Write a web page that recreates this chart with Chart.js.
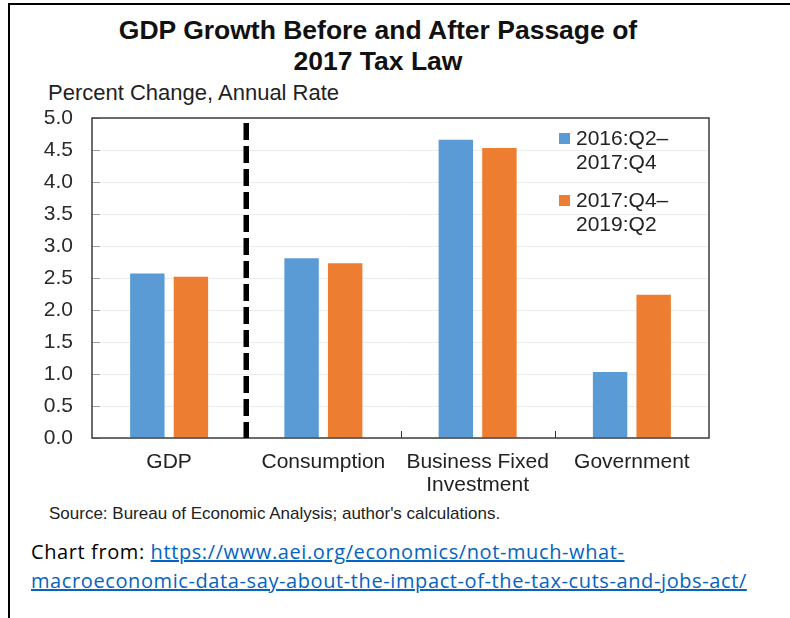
<!DOCTYPE html>
<html>
<head>
<meta charset="utf-8">
<title>GDP Growth Before and After Passage of 2017 Tax Law</title>
<script src="https://cdn.jsdelivr.net/npm/chart.js@4.4.0/dist/chart.umd.min.js"></script>
<style>
  html, body { margin: 0; padding: 0; background: #fff; }
  #page { position: relative; width: 790px; height: 618px; overflow: hidden; background: #fff; }
  #frameLeft { position: absolute; left: 8px; top: 3px; width: 2px; height: 615px; background: #000; }
  #frameTop { position: absolute; left: 8px; top: 3px; width: 782px; height: 2px; background: #000; }
  #chartBox { position: absolute; left: 0; top: 0; width: 790px; height: 500px; }
  .title { position: absolute; left: 0; top: 15px; width: 756px; text-align: center;
           font: bold 26.5px "Liberation Sans", Arial, sans-serif; line-height: 31px; color: #111; }
  .ylabel { position: absolute; left: 48px; top: 80px; font: 22px "Liberation Sans", Arial, sans-serif; color: #222; }
  .source { position: absolute; left: 49px; top: 504px; font: 17px "Liberation Sans", Arial, sans-serif;
            color: #222; }
  .credit { position: absolute; left: 31px; top: 537px; width: 758px; font: 20px "Open Sans", sans-serif;
            letter-spacing: 0.6px; line-height: 29px; color: #000; }
  .credit a { color: #0563c1; text-decoration: underline; }
</style>
</head>
<body>
<div id="page">
  <div id="frameLeft"></div>
  <div id="frameTop"></div>
  <div class="title">GDP Growth Before and After Passage of<br>2017 Tax Law</div>
  <div class="ylabel">Percent Change, Annual Rate</div>
  <div id="chartBox"><canvas id="gdpChart" width="790" height="500"></canvas></div>
  <div class="source">Source: Bureau of Economic Analysis; author's calculations.</div>
  <div class="credit">Chart from: <a href="https://www.aei.org/economics/not-much-what-macroeconomic-data-say-about-the-impact-of-the-tax-cuts-and-jobs-act/">https://www.aei.org/economics/not-much-what-<br>macroeconomic-data-say-about-the-impact-of-the-tax-cuts-and-jobs-act/</a></div>
</div>
<script>
// data
const categories = [['GDP'], ['Consumption'], ['Business Fixed', 'Investment'], ['Government']];
const seriesNames = ['2016:Q2\u20132017:Q4', '2017:Q4\u20132019:Q2'];
const beforeLaw = [2.57, 2.81, 4.66, 1.03];
const afterLaw = [2.52, 2.73, 4.53, 2.24];
const yTicks = [0, 0.5, 1, 1.5, 2, 2.5, 3, 3.5, 4, 4.5, 5];
const dividerAfter = 0; // dashed line sits after this category

const BLUE = '#5b9bd5';
const ORANGE = '#ed7d31';
const FONT = '"Liberation Sans", Arial, sans-serif';

// box, inner ticks, dashed divider and legend
const framePlugin = {
    id: 'frame',
    afterDatasetsDraw(chart) {
        const ctx = chart.ctx;
        const a = chart.chartArea;
        const x = chart.scales.x;
        const y = chart.scales.y;
        ctx.save();

        ctx.strokeStyle = '#a0a0a0';
        ctx.lineWidth = 1;
        yTicks.forEach(v => {
            const py = Math.round(y.getPixelForValue(v)) + 0.5;
            ctx.beginPath();
            ctx.moveTo(a.left, py);
            ctx.lineTo(a.left + 8, py);
            ctx.stroke();
        });
        ctx.strokeStyle = '#333';
        for (let i = 1; i < categories.length; i++) {
            const px = Math.round((x.getPixelForValue(i - 1) + x.getPixelForValue(i)) / 2) + 0.5;
            ctx.beginPath();
            ctx.moveTo(px, a.bottom);
            ctx.lineTo(px, a.bottom - 7);
            ctx.stroke();
        }

        ctx.strokeStyle = '#3c3c3c';
        ctx.lineWidth = 1.5;
        ctx.strokeRect(a.left, a.top, a.right - a.left, a.bottom - a.top);

        const dx = (x.getPixelForValue(dividerAfter) + x.getPixelForValue(dividerAfter + 1)) / 2;
        ctx.strokeStyle = '#000';
        ctx.lineWidth = 5.5;
        ctx.setLineDash([17, 6]);
        ctx.beginPath();
        ctx.moveTo(dx, a.top + 5);
        ctx.lineTo(dx, a.bottom);
        ctx.stroke();
        ctx.setLineDash([]);

        // legend, two lines per entry
        ctx.font = '21px ' + FONT;
        ctx.textBaseline = 'middle';
        chart.data.datasets.forEach((ds, i) => {
            const top = a.top + 21 + i * 62;
            const parts = ds.label.split('\u2013');
            ctx.fillStyle = ds.backgroundColor;
            ctx.fillRect(a.right - 150, top - 6, 11, 11);
            ctx.fillStyle = '#222';
            ctx.fillText(parts[0] + '\u2013', a.right - 133, top);
            ctx.fillText(parts[1], a.right - 133, top + 24);
        });
        ctx.restore();
    }
};

new Chart('gdpChart', {
    type: 'bar',
    data: {
        labels: categories,
        datasets: [{
            label: seriesNames[0],
            data: beforeLaw,
            backgroundColor: BLUE,
            categoryPercentage: 0.565,
            barPercentage: 0.79
        }, {
            label: seriesNames[1],
            data: afterLaw,
            backgroundColor: ORANGE,
            categoryPercentage: 0.565,
            barPercentage: 0.79
        }]
    },
    options: {
        responsive: false,
        animation: false,
        layout: { padding: { top: 118, right: 81, bottom: 0, left: 0 } },
        plugins: {
            legend: { display: false },
            tooltip: { enabled: false }
        },
        scales: {
            x: {
                grid: { display: false },
                border: { display: false },
                ticks: {
                    padding: 4,
                    color: '#222',
                    font: { family: FONT, size: 21, lineHeight: 1.12 },
                    maxRotation: 0
                },
                afterFit: (scale) => { scale.height = 62; }
            },
            y: {
                min: yTicks[0],
                max: yTicks[yTicks.length - 1],
                grid: { color: '#ececec', drawTicks: false },
                border: { display: false },
                afterBuildTicks: (scale) => { scale.ticks = yTicks.map(v => ({ value: v })); },
                ticks: {
                    padding: 19,
                    color: '#2a2a2a',
                    font: { family: FONT, size: 21 },
                    callback: (v) => Number(v).toFixed(1)
                },
                afterFit: (scale) => { scale.width = 92; }
            }
        }
    },
    plugins: [framePlugin]
});
</script>
</body>
</html>
